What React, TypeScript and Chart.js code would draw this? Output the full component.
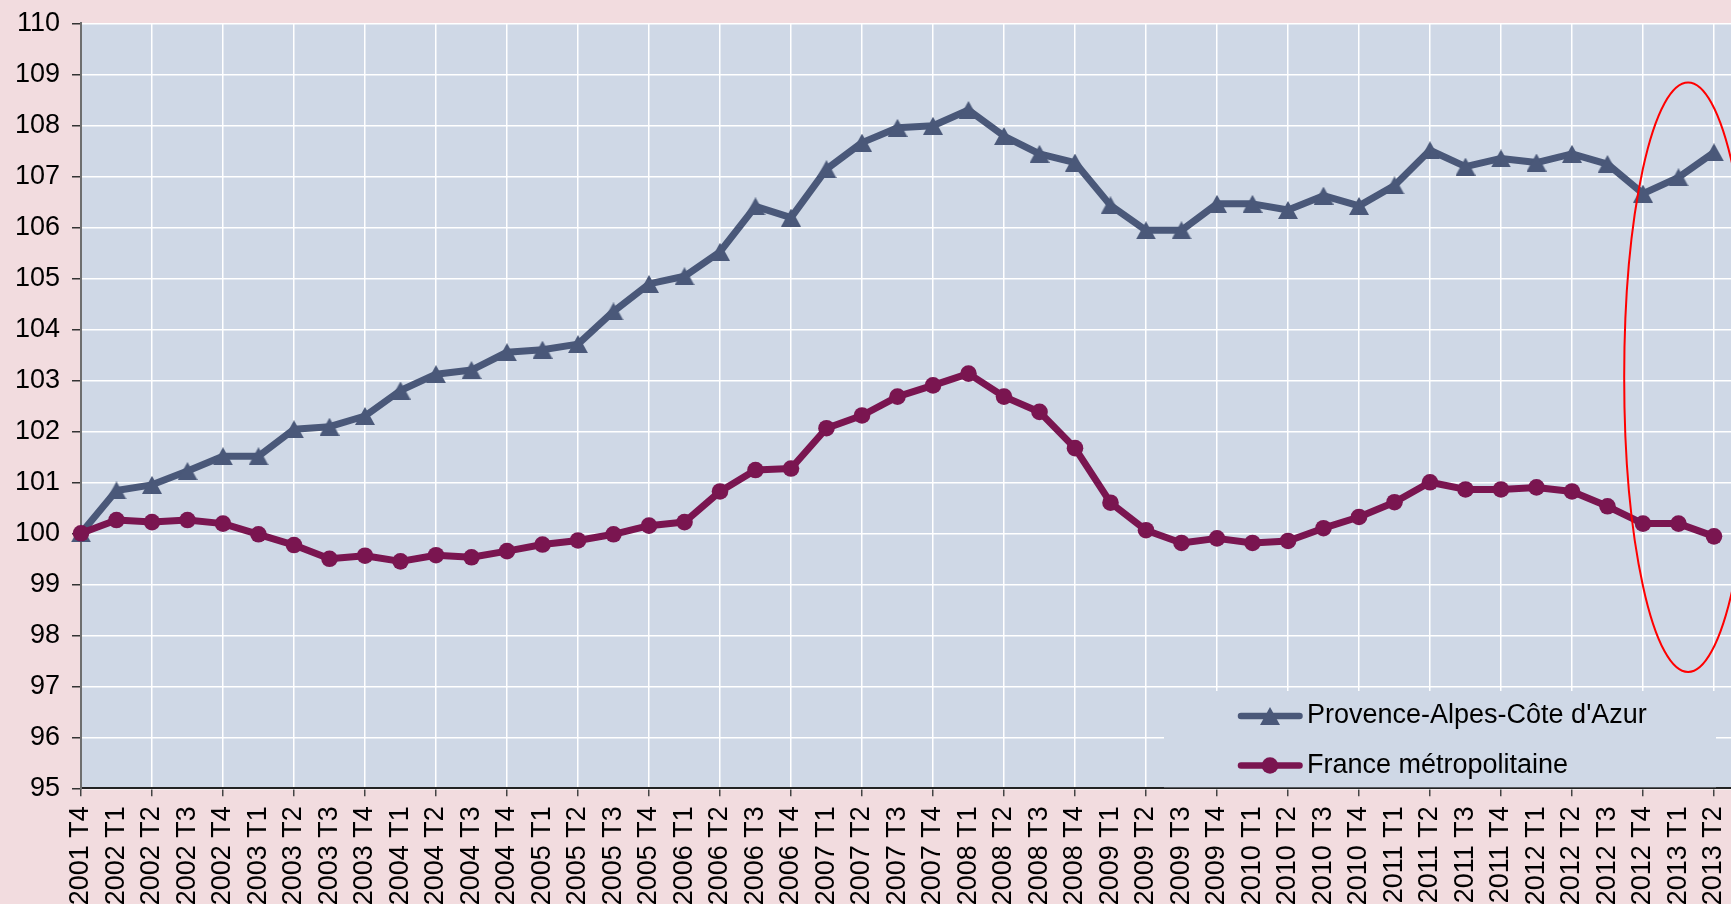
import React, { useEffect, useRef } from 'react';
import { Chart, registerables } from 'chart.js';

Chart.register(...registerables);

// ---------- data ----------
const QUARTERS: string[] = [
  '2001 T4',
  '2002 T1', '2002 T2', '2002 T3', '2002 T4',
  '2003 T1', '2003 T2', '2003 T3', '2003 T4',
  '2004 T1', '2004 T2', '2004 T3', '2004 T4',
  '2005 T1', '2005 T2', '2005 T3', '2005 T4',
  '2006 T1', '2006 T2', '2006 T3', '2006 T4',
  '2007 T1', '2007 T2', '2007 T3', '2007 T4',
  '2008 T1', '2008 T2', '2008 T3', '2008 T4',
  '2009 T1', '2009 T2', '2009 T3', '2009 T4',
  '2010 T1', '2010 T2', '2010 T3', '2010 T4',
  '2011 T1', '2011 T2', '2011 T3', '2011 T4',
  '2012 T1', '2012 T2', '2012 T3', '2012 T4',
  '2013 T1', '2013 T2',
];

const PACA: number[] = [
  100.0, 100.84, 100.95, 101.22, 101.51, 101.51, 102.04, 102.09, 102.3, 102.8,
  103.12, 103.2, 103.55, 103.6, 103.71, 104.35, 104.89, 105.04, 105.52, 106.41,
  106.19, 107.14, 107.66, 107.95, 107.99, 108.3, 107.79, 107.44, 107.27, 106.43,
  105.94, 105.94, 106.46, 106.46, 106.34, 106.62, 106.42, 106.82, 107.51, 107.19,
  107.35, 107.27, 107.44, 107.24, 106.66, 106.98, 107.47,
];

const FRANCE: number[] = [
  100.0, 100.26, 100.22, 100.26, 100.19, 99.98, 99.77, 99.5, 99.56, 99.45,
  99.57, 99.53, 99.65, 99.78, 99.86, 99.98, 100.15, 100.22, 100.82, 101.24,
  101.27, 102.06, 102.31, 102.68, 102.9, 103.13, 102.68, 102.38, 101.67, 100.6,
  100.06, 99.81, 99.9, 99.81, 99.85, 100.1, 100.32, 100.61, 101.0, 100.86,
  100.86, 100.9, 100.82, 100.53, 100.19, 100.19, 99.94,
];

const SERIES_NAMES: string[] = ["Provence-Alpes-Côte d'Azur", 'France métropolitaine'];

const Y_MIN = 95;
const Y_MAX = 110;
const X_MAX = 48;

// red highlight ellipse (data coordinates: category index / index value)
const HIGHLIGHT_CENTER = [45.27, 103.06];
const HIGHLIGHT_RADII = [1.8, 5.78];

// ---------- styles ----------
const PAGE_BG = '#F2DCDF';
const PLOT_BG = '#CFD8E6';
const BLUE = '#4A5879';
const PURPLE = '#7A1550';
const FONT = "'Liberation Sans', Arial, Helvetica, sans-serif";
const CANVAS_W = 1835;
const CANVAS_H = 940;
const PLOT_TOP = 23.3;
const PLOT_BOTTOM = 788.3;

function makeTriangle(color: string): HTMLCanvasElement {
  const c = document.createElement('canvas');
  c.width = 20;
  c.height = 18;
  const g = c.getContext('2d')!;
  g.fillStyle = color;
  g.beginPath();
  g.moveTo(10, 0);
  g.lineTo(20, 18);
  g.lineTo(0, 18);
  g.closePath();
  g.fill();
  return c;
}

export default function App() {
  const ref = useRef<HTMLCanvasElement | null>(null);

  useEffect(() => {
    document.body.style.overflow = 'hidden';
    const canvas = ref.current;
    if (!canvas) return;
    const tri = makeTriangle(BLUE);

    const bgPlugin = {
      id: 'bg',
      beforeDraw(chart: any) {
        const { ctx, chartArea } = chart;
        ctx.save();
        ctx.fillStyle = PAGE_BG;
        ctx.fillRect(0, 0, chart.width, chart.height);
        ctx.fillStyle = PLOT_BG;
        ctx.fillRect(chartArea.left, chartArea.top, chartArea.right - chartArea.left, chartArea.bottom - chartArea.top);
        ctx.restore();
      },
    };

    const ellipsePlugin = {
      id: 'highlight',
      afterDatasetsDraw(chart: any) {
        const { ctx } = chart;
        const xs = chart.scales.x;
        const ys = chart.scales.y;
        const cx = xs.getPixelForValue(HIGHLIGHT_CENTER[0]);
        const cy = ys.getPixelForValue(HIGHLIGHT_CENTER[1]);
        const rx = xs.getPixelForValue(HIGHLIGHT_CENTER[0] + HIGHLIGHT_RADII[0]) - cx;
        const ry = cy - ys.getPixelForValue(HIGHLIGHT_CENTER[1] + HIGHLIGHT_RADII[1]);
        ctx.save();
        ctx.strokeStyle = '#FF0000';
        ctx.lineWidth = 2;
        ctx.beginPath();
        ctx.ellipse(cx, cy, rx, ry, 0, 0, Math.PI * 2);
        ctx.stroke();
        ctx.restore();
      },
    };

    const legendPlugin = {
      id: 'customLegend',
      afterDraw(chart: any) {
        const { ctx, chartArea } = chart;
        const boxL = 1164;
        const boxT = 691;
        const boxR = 1716;
        const boxB = chartArea.bottom - 1;
        ctx.save();
        ctx.fillStyle = PLOT_BG;
        ctx.fillRect(boxL, boxT, boxR - boxL, boxB - boxT);
        const rows = [
          { y: 716, color: BLUE, marker: 'tri', name: SERIES_NAMES[0] },
          { y: 765.5, color: PURPLE, marker: 'circle', name: SERIES_NAMES[1] },
        ];
        rows.forEach((r) => {
          ctx.strokeStyle = r.color;
          ctx.lineWidth = 6.5;
          ctx.lineCap = 'round';
          ctx.beginPath();
          ctx.moveTo(1241, r.y);
          ctx.lineTo(1299.5, r.y);
          ctx.stroke();
          const mx = 1270;
          if (r.marker === 'tri') {
            ctx.drawImage(tri, mx - 10, r.y - 9);
          } else {
            ctx.fillStyle = r.color;
            ctx.beginPath();
            ctx.arc(mx, r.y, 8.3, 0, Math.PI * 2);
            ctx.fill();
          }
          ctx.fillStyle = '#000';
          ctx.font = `27px ${FONT}`;
          ctx.textAlign = 'left';
          ctx.textBaseline = 'middle';
          ctx.fillText(r.name, 1307, r.y);
        });
        ctx.restore();
      },
    };

    const chart = new Chart(canvas, {
      type: 'line',
      data: {
        datasets: [
          {
            label: SERIES_NAMES[1],
            data: FRANCE.map((v, i) => ({ x: i, y: v })),
            borderColor: PURPLE,
            backgroundColor: PURPLE,
            borderWidth: 7,
            borderJoinStyle: 'round',
            borderCapStyle: 'round',
            tension: 0,
            pointStyle: 'circle',
            pointRadius: 8.3,
            pointBorderWidth: 0,
            pointBackgroundColor: PURPLE,
            clip: false,
            order: 0,
          },
          {
            label: SERIES_NAMES[0],
            data: PACA.map((v, i) => ({ x: i, y: v })),
            borderColor: BLUE,
            backgroundColor: BLUE,
            borderWidth: 7,
            borderJoinStyle: 'round',
            borderCapStyle: 'round',
            tension: 0,
            pointStyle: tri,
            pointRadius: 10,
            pointBorderWidth: 0,
            pointBackgroundColor: BLUE,
            clip: false,
            order: 1,
          },
        ],
      },
      options: {
        responsive: false,
        animation: false,
        events: [],
        layout: { padding: { left: 0, top: PLOT_TOP, right: 50, bottom: 0 } },
        plugins: {
          legend: { display: false },
          tooltip: { enabled: false },
        },
        scales: {
          x: {
            type: 'linear',
            min: 0,
            max: X_MAX,
            afterFit(s: any) {
              s.height = CANVAS_H - PLOT_BOTTOM;
              s.paddingLeft = 0;
              s.paddingRight = 0;
            },
            ticks: {
              stepSize: 1,
              autoSkip: false,
              includeBounds: false,
              maxRotation: 90,
              minRotation: 90,
              padding: 10,
              color: '#000',
              font: { family: FONT, size: 27 },
              callback: (v: any) => QUARTERS[v] ?? '',
            },
            grid: {
              color: (c: any) => (c.tick && c.tick.value % 2 === 0 ? '#FFFFFF' : 'rgba(0,0,0,0)'),
              tickColor: (c: any) => (c.tick && c.tick.value % 2 === 0 ? '#444' : 'rgba(0,0,0,0)'),
              lineWidth: 1.5,
              tickLength: 8,
              tickWidth: 1.5,
            },
            border: { color: '#222', width: 2 },
          },
          y: {
            min: Y_MIN,
            max: Y_MAX,
            afterFit(s: any) {
              s.width = 81;
              s.paddingTop = 0;
              s.paddingBottom = 0;
            },
            ticks: {
              stepSize: 1,
              padding: 12,
              color: '#000',
              font: { family: FONT, size: 27 },
            },
            grid: {
              color: '#FFFFFF',
              lineWidth: 1.5,
              tickLength: 9,
              tickColor: '#333',
              tickWidth: 1.5,
            },
            border: { color: '#6e6e6e', width: 2 },
          },
        },
      } as any,
      plugins: [bgPlugin, ellipsePlugin, legendPlugin],
    });

    return () => chart.destroy();
  }, []);

  return (
    <div
      style={{
        position: 'fixed',
        left: 0,
        top: 0,
        width: 1731,
        height: 904,
        overflow: 'hidden',
        background: PAGE_BG,
      }}
    >
      <canvas ref={ref} width={CANVAS_W} height={CANVAS_H} style={{ display: 'block' }} />
    </div>
  );
}
